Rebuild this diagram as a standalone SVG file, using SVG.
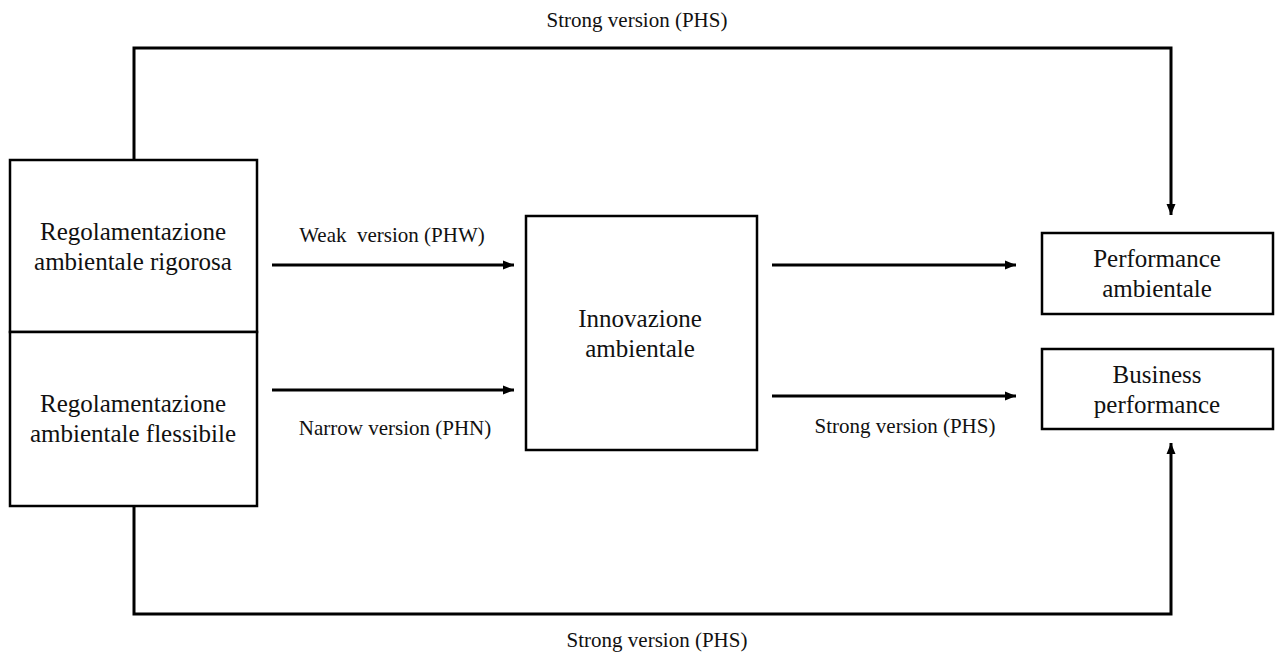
<svg xmlns="http://www.w3.org/2000/svg" width="1276" height="660" viewBox="0 0 1276 660">
<style>
.box{fill:#fff;stroke:#000;stroke-width:2.5}
.ln{fill:none;stroke:#000;stroke-width:3}
text{font-family:'Liberation Serif','DejaVu Serif',serif;fill:#111;text-anchor:middle}
.nt{font-size:25px}
.lb{font-size:21px}
</style>
<defs>
<marker id="ah" markerUnits="userSpaceOnUse" markerWidth="12" markerHeight="10" refX="11" refY="5" orient="auto">
<path d="M0,0.5 L11,5 L0,9.5 z" fill="#000"/>
</marker>
</defs>
<rect width="1276" height="660" fill="#fff"/>
<g id="connectors">
<path class="ln" d="M134,160 V48 H1171 V215" marker-end="url(#ah)"/>
<path class="ln" d="M134,506 V614 H1171 V443" marker-end="url(#ah)"/>
<line class="ln" x1="272" y1="265" x2="514" y2="265" marker-end="url(#ah)"/>
<line class="ln" x1="272" y1="390" x2="514" y2="390" marker-end="url(#ah)"/>
<line class="ln" x1="772" y1="265" x2="1016" y2="265" marker-end="url(#ah)"/>
<line class="ln" x1="772" y1="396" x2="1016" y2="396" marker-end="url(#ah)"/>
<text class="lb" font-family="Liberation Serif, serif" x="637" y="27">Strong version (PHS)</text>
<text class="lb" font-family="Liberation Serif, serif" x="657" y="647">Strong version (PHS)</text>
<text class="lb" font-family="Liberation Serif, serif" x="392" y="242" xml:space="preserve">Weak  version (PHW)</text>
<text class="lb" font-family="Liberation Serif, serif" x="395" y="435">Narrow version (PHN)</text>
<text class="lb" font-family="Liberation Serif, serif" x="905" y="433">Strong version (PHS)</text>
</g>
<g id="reg-rigorosa">
<rect class="box" x="10" y="160" width="247" height="172"/>
<text class="nt" font-family="Liberation Serif, serif" x="133" y="240">Regolamentazione</text>
<text class="nt" font-family="Liberation Serif, serif" x="133" y="270">ambientale rigorosa</text>
</g>
<g id="reg-flessibile">
<rect class="box" x="10" y="332" width="247" height="174"/>
<text class="nt" font-family="Liberation Serif, serif" x="133" y="412">Regolamentazione</text>
<text class="nt" font-family="Liberation Serif, serif" x="133" y="442">ambientale flessibile</text>
</g>
<g id="innovazione">
<rect class="box" x="526" y="216" width="231" height="234"/>
<text class="nt" font-family="Liberation Serif, serif" x="640" y="327">Innovazione</text>
<text class="nt" font-family="Liberation Serif, serif" x="640" y="357">ambientale</text>
</g>
<g id="perf-ambientale">
<rect class="box" x="1042" y="233" width="231" height="81"/>
<text class="nt" font-family="Liberation Serif, serif" x="1157" y="267">Performance</text>
<text class="nt" font-family="Liberation Serif, serif" x="1157" y="297">ambientale</text>
</g>
<g id="business-perf">
<rect class="box" x="1042" y="349" width="231" height="80"/>
<text class="nt" font-family="Liberation Serif, serif" x="1157" y="383">Business</text>
<text class="nt" font-family="Liberation Serif, serif" x="1157" y="413">performance</text>
</g>
</svg>
